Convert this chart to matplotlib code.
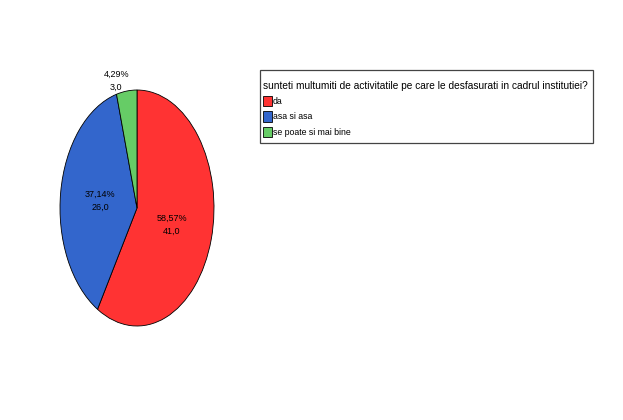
import matplotlib.pyplot as plt
from matplotlib.patches import Rectangle

# Data
labels = ["da", "asa si asa", "se poate si mai bine"]
counts = [41.0, 26.0, 3.0]
pct_text = ["58,57%", "37,14%", "4,29%"]
cnt_text = ["41,0", "26,0", "3,0"]
colors = ["#FF3333", "#3366CC", "#66CC66"]
title = "sunteti multumiti de activitatile pe care le desfasurati in cadrul institutiei?"

plt.rcParams["font.family"] = ["Liberation Sans", "DejaVu Sans"]

fig = plt.figure(figsize=(6.23, 4.2), dpi=100)
ax = fig.add_axes([60 / 623, 1 - 326 / 420, 154 / 623, 236 / 420])

wedges, _ = ax.pie(counts, colors=colors, startangle=90, counterclock=False,
                   wedgeprops=dict(edgecolor="black", linewidth=0.6))
ax.set_aspect("auto")
ax.set_xlim(-1, 1)
ax.set_ylim(-1, 1)

# label positions (data coords of the stretched pie)
lab_pos = [(0.45, -0.14), (-0.48, 0.06), (-0.27, 1.08)]
for (x, y), p, c in zip(lab_pos, pct_text, cnt_text):
    ax.text(x, y, p + "\n" + c, ha="center", va="center", fontsize=6.5,
            linespacing=1.6, clip_on=False)

# legend box
fig.patches.append(Rectangle((260 / 623, 1 - 143 / 420), 333 / 623, 73 / 420,
                             transform=fig.transFigure, fill=False,
                             edgecolor="#444444", linewidth=0.9))

leg = fig.legend(wedges, labels, title=title, loc="upper left",
                 bbox_to_anchor=(262 / 623, 1 - 80 / 420), fontsize=6.3,
                 title_fontsize=7.3, alignment="left", frameon=False,
                 handlelength=1.0, handleheight=1.5,
                 handletextpad=0.15, labelspacing=0.55, borderpad=0.1,
                 borderaxespad=0)

fig.savefig("out.png", dpi=100)
